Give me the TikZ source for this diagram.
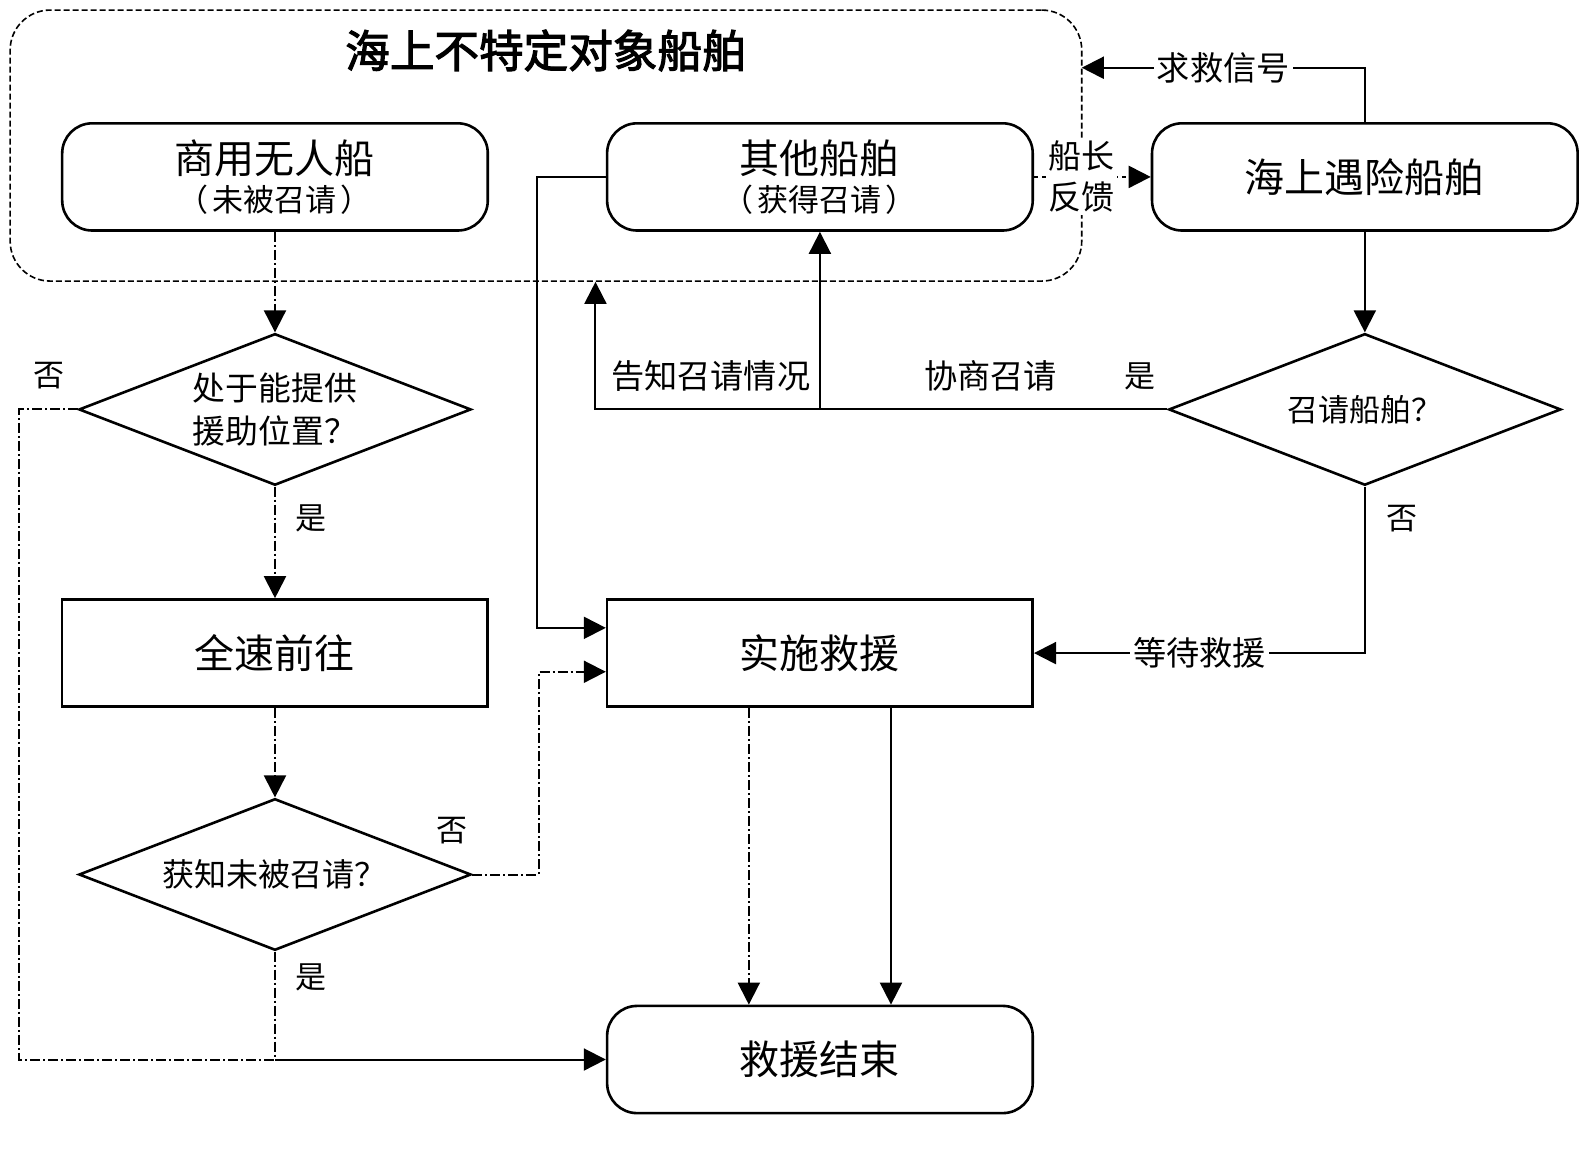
\documentclass[tikz,border=0pt]{standalone}
\usepackage{fontspec}
\newfontfamily\cjk{Noto Sans CJK SC}
\newfontfamily\cjkbf[FakeBold=2.5]{Noto Sans CJK SC}
\usetikzlibrary{shapes.geometric,arrows.meta,calc}
\begin{document}
\begin{tikzpicture}[x=0.5055pt,y=-0.5055pt,
  every node/.style={font=\cjk},
  rbox/.style={draw, line width=1.3pt, rounded corners=15pt, minimum width=212.8pt, minimum height=53.6pt, align=center, inner sep=0pt},
  sbox/.style={draw, line width=1.3pt, minimum width=212.8pt, minimum height=53.6pt, align=center, inner sep=0pt},
  dia/.style={draw, diamond, line width=1.3pt, aspect=2.59, minimum width=196.1pt, minimum height=75.8pt, inner sep=0pt, align=center},
  conn/.style={line width=1pt, -{Triangle[length=11pt,width=11pt]}},
  plain/.style={line width=1pt},
  ddot/.style={dash pattern=on 5pt off 1.5pt on 1pt off 1.5pt},
  big/.style={font=\cjk\fontsize{20}{24}\selectfont},
  mid/.style={font=\cjk\fontsize{16.4}{21.5}\selectfont},
  lab/.style={font=\cjk\fontsize{16.6}{19}\selectfont, inner sep=1.5pt},
  yn/.style={font=\cjk\fontsize{15.5}{18}\selectfont, inner sep=0pt},
]
\useasboundingbox (0pt,0pt) rectangle (792pt,-574.5pt);

% outer group
\node[draw, line width=0.8pt, dash pattern=on 3pt off 1.5pt, rounded corners=20pt,
      minimum width=535.8pt, minimum height=135.5pt, inner sep=0pt] (grp) at (540,144) {};
\node[font=\cjkbf\fontsize{22.3}{26}\selectfont] (title) at (540,50) {海上不特定对象船舶};

% nodes
\node[rbox] (A) at (272,175) {{\fontsize{20}{24}\selectfont 商用无人船}\\[3pt]{\fontsize{15.5}{18}\selectfont （\kern2pt 未被召请\kern2pt ）}};
\node[rbox] (B) at (811,175) {{\fontsize{20}{24}\selectfont 其他船舶}\\[3pt]{\fontsize{15.5}{18}\selectfont （\kern2pt 获得召请\kern2pt ）}};
\node[rbox, big] (C) at (1350,175) {海上遇险船舶};
\node[dia, mid] (D1) at (272,405) {处于能提供\\援助位置？};
\node[dia, font=\cjk\fontsize{15.5}{18}\selectfont] (D2) at (1350,405) {召请船舶？};
\node[sbox, big] (E) at (272,646) {全速前往};
\node[sbox, big] (F) at (811,646) {实施救援};
\node[dia, font=\cjk\fontsize{16}{18}\selectfont] (D3) at (272,865) {获知未被召请？};
\node[rbox, big] (G) at (811,1048) {救援结束};

% helper coordinates
\coordinate (gx) at (589,0);
\coordinate (f1) at ($(F.south west)!0.334!(F.south east)$);
\coordinate (f2) at ($(F.south west)!0.666!(F.south east)$);
\coordinate (fa) at ($(F.north west)!0.27!(F.south west)$);
\coordinate (fb) at ($(F.north west)!0.67!(F.south west)$);
\coordinate (j) at (D3.south |- G.west);
\coordinate (sig) at (1070,67);

% left column (dash-dot)
\draw[conn, ddot] (A.south) -- (D1.north);
\draw[conn, ddot] (D1.south) -- (E.north);
\node[yn] (y1) at (308,513) {是};
\draw[conn, ddot] (E.south) -- (D3.north);
\draw[plain, ddot] (D1.west) -- ++(-58,0) |- (j);
\node[yn] (n1) at (48,372) {否};
\draw[plain, ddot] (D3.south) -- (j);
\node[yn] (y2) at (308,967) {是};
\draw[conn] (j) -- (G.west);
\draw[conn, ddot] (D3.east) -- ++(66,0) |- (fb);
\node[yn] (n2) at (447,822) {否};

% other ship to rescue
\draw[conn] (B.west) -- ++(-68,0) |- (fa);

% distress ship
\draw[conn] (C.north) |- node[lab, pos=0.75, fill=white] (sl) {求救信号} (sig);
\draw[conn, dash pattern=on 2pt off 2pt] (B.east) -- (C.west);
\node[lab, fill=white, align=center, inner sep=1pt, font=\cjk\fontsize{16.5}{20.5}\selectfont] (fb1) at (1070,175) {船长\\反馈};
\draw[conn] (C.south) -- (D2.north);
\draw[conn] (D2.west) -| (grp.south -| gx);
\draw[conn] (D2.west -| B.south) -- (B.south);
\node[lab] (l1) at (703,372) {告知召请情况};
\node[lab] (l2) at (980,372) {协商召请};
\node[yn] (y3) at (1128,372) {是};
\draw[conn] (D2.south) |- node[lab, pos=0.75, fill=white] (wl) {等待救援} (F.east);
\node[yn] (n3) at (1387,513) {否};

% rescue to end
\draw[conn, ddot] (f1) -- (f1 |- G.north);
\draw[conn] (f2) -- (f2 |- G.north);
\end{tikzpicture}
\end{document}
